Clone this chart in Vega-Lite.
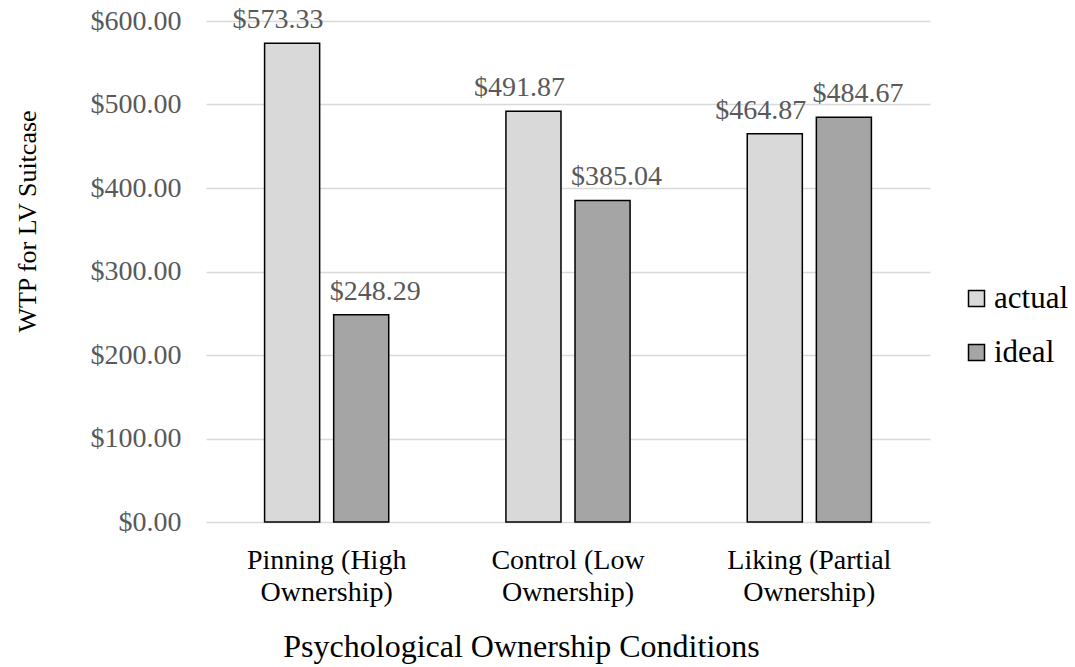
{
  "$schema": "https://vega.github.io/schema/vega-lite/v6.json",
  "autosize": {"type": "none"},
  "padding": {"left": 206, "top": 21, "right": 145, "bottom": 145},
  "width": 724,
  "height": 501,
  "background": "white",
  "config": {
    "font": "Liberation Serif",
    "view": {"stroke": null},
    "text": {"font": "Liberation Serif"},
    "axis": {"labelFont": "Liberation Serif", "titleFont": "Liberation Serif", "titleFontWeight": "normal"},
    "legend": {"labelFont": "Liberation Serif"}
  },
  "data": {
    "values": [
      {"condition": "Pinning (High Ownership)", "type": "actual", "wtp": 573.33},
      {"condition": "Pinning (High Ownership)", "type": "ideal", "wtp": 248.29},
      {"condition": "Control (Low Ownership)", "type": "actual", "wtp": 491.87},
      {"condition": "Control (Low Ownership)", "type": "ideal", "wtp": 385.04},
      {"condition": "Liking (Partial Ownership)", "type": "actual", "wtp": 464.87},
      {"condition": "Liking (Partial Ownership)", "type": "ideal", "wtp": 484.67}
    ]
  },
  "encoding": {
    "x": {
      "field": "condition", "type": "nominal", "sort": null,
      "scale": {"paddingInner": 0, "paddingOuter": 0},
      "axis": {
        "title": "Psychological Ownership Conditions",
        "labelAngle": 0,
        "domain": false, "ticks": false,
        "labelExpr": "split(replace(datum.label, ' Ownership', '|Ownership'), '|')",
        "labelFontSize": 28, "labelColor": "#000000", "labelLineHeight": 32,
        "labelPadding": 24,
        "titleFontSize": 32, "titleColor": "#000000",
        "titleX": 315, "titleY": 134, "titleBaseline": "alphabetic"
      }
    },
    "xOffset": {"field": "type", "type": "nominal", "scale": {"paddingInner": 0.203, "paddingOuter": 0.848}},
    "y": {
      "field": "wtp", "type": "quantitative",
      "scale": {"domain": [0, 600]},
      "axis": {
        "title": "WTP for LV Suitcase",
        "values": [0, 100, 200, 300, 400, 500, 600],
        "format": "$,.2f",
        "domain": false, "ticks": false,
        "gridColor": "#D9D9D9", "gridWidth": 1.3,
        "labelFontSize": 28, "labelColor": "#595959", "labelPadding": 25,
        "titleFontSize": 26, "titleColor": "#000000",
        "titleX": -166, "titleY": 200
      }
    }
  },
  "layer": [
    {
      "mark": {"type": "bar", "stroke": "#000000", "strokeWidth": 1.5},
      "encoding": {
        "color": {
          "field": "type", "type": "nominal",
          "scale": {"domain": ["actual", "ideal"], "range": ["#D9D9D9", "#A5A5A5"]},
          "legend": {
            "title": null, "orient": "none", "legendX": 755, "legendY": 262,
            "symbolType": "square", "symbolSize": 256, "symbolStrokeColor": "#000000",
            "symbolStrokeWidth": 1.5, "symbolOpacity": 1,
            "labelFontSize": 31, "labelColor": "#000000", "labelOffset": 2,
            "rowPadding": 22, "padding": 0
          }
        }
      }
    },
    {
      "transform": [{"filter": "datum.type == 'actual'"}],
      "mark": {"type": "text", "baseline": "alphabetic", "dy": -15, "dx": -14, "fontSize": 28, "color": "#595959"},
      "encoding": {"text": {"field": "wtp", "type": "quantitative", "format": "$,.2f"}}
    },
    {
      "transform": [{"filter": "datum.type == 'ideal'"}],
      "mark": {"type": "text", "baseline": "alphabetic", "dy": -15, "dx": 14, "fontSize": 28, "color": "#595959"},
      "encoding": {"text": {"field": "wtp", "type": "quantitative", "format": "$,.2f"}}
    }
  ]
}
